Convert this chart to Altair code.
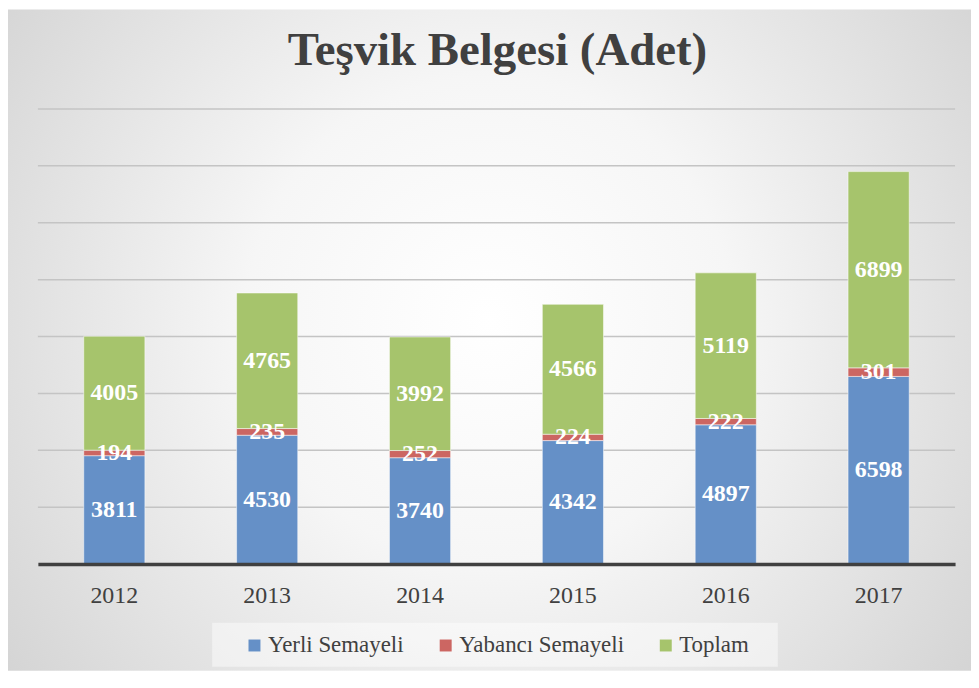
import altair as alt
import pandas as pd

title_text = ["Teşvik Belgesi (Adet)"]
years = ["2012", "2013", "2014", "2015", "2016", "2017"]
yerli = [3811, 4530, 3740, 4342, 4897, 6598]
yabanci = [194, 235, 252, 224, 222, 301]
toplam = [4005, 4765, 3992, 4566, 5119, 6899]
series = ["Yerli Semayeli", "Yabancı Semayeli", "Toplam"]
colors = ["#6590c7", "#cc6662", "#a6c46c"]
grid_values = [2000, 4000, 6000, 8000, 10000, 12000, 14000, 16000]

rows = []
for i, yr in enumerate(years):
    for k, (s, vals) in enumerate(zip(series, [yerli, yabanci, toplam])):
        rows.append({"year": yr, "series": s, "value": vals[i], "order": k})
df = pd.DataFrame(rows)

W, H = 921, 457
PAD = {"left": 30, "top": 100, "right": 16, "bottom": 115}
SERIF = "Liberation Serif"
TXT = "#404040"

yscale = alt.Scale(domain=[0, 16000], nice=False, zero=True)
xscale = alt.Scale(domain=years, paddingInner=0.6, paddingOuter=0.3)

gradient = {
    "gradient": "radial",
    "x1": 0.5, "y1": 0.48, "r1": 0,
    "x2": 0.5, "y2": 0.48, "r2": 0.72,
    "stops": [
        {"offset": 0, "color": "#ffffff"},
        {"offset": 0.35, "color": "#f6f6f6"},
        {"offset": 1, "color": "#cbcbcb"},
    ],
}

one = pd.DataFrame({"k": [0]})

bg = alt.Chart(one).mark_rect(fill=gradient).encode(
    x=alt.value(-PAD["left"]), x2=alt.value(W + PAD["right"]),
    y=alt.value(-PAD["top"]), y2=alt.value(H + 107),
)

grid = alt.Chart(pd.DataFrame({"v": grid_values})).mark_rule(
    color="#c4c4c4", strokeWidth=1.5
).encode(
    y=alt.Y("v:Q", scale=yscale, axis=None),
    x=alt.value(0), x2=alt.value(W),
)

legend_box = alt.Chart(one).mark_rect(fill="#ffffff", fillOpacity=0.45).encode(
    x=alt.value(175), x2=alt.value(743),
    y=alt.value(516), y2=alt.value(560),
)

bars = alt.Chart(df).mark_bar(stroke="#ffffff", strokeOpacity=0.5, strokeWidth=1).encode(
    x=alt.X("year:N", scale=xscale, axis=alt.Axis(
        title=None, labelAngle=0, ticks=False, grid=False,
        domainColor="#404040", domainWidth=3.5,
        labelFont=SERIF, labelFontSize=24, labelColor=TXT, labelPadding=20,
        zindex=1,
    )),
    y=alt.Y("value:Q", stack="zero", scale=yscale, axis=None),
    color=alt.Color("series:N", scale=alt.Scale(domain=series, range=colors), legend=alt.Legend(
        title=None, orient="none", legendX=206, legendY=527, direction="horizontal",
        symbolType="square", symbolSize=144, symbolStrokeWidth=0, symbolOpacity=1,
        labelFont=SERIF, labelFontSize=23, labelColor=TXT, labelOffset=2,
        labelLimit=0, columnPadding=30,
    )),
    order=alt.Order("order:Q"),
)

labels = alt.Chart(df).transform_stack(
    stack="value", groupby=["year"], as_=["v0", "v1"], sort=[alt.SortField("order")]
).transform_calculate(
    mid="(datum.v0 + datum.v1) / 2"
).mark_text(
    font=SERIF, fontSize=24, fontWeight="bold", color="#ffffff", baseline="middle"
).encode(
    x=alt.X("year:N", scale=xscale),
    y=alt.Y("mid:Q", scale=yscale),
    text="value:Q",
)

title = alt.Chart(pd.DataFrame({"t": title_text})).mark_text(
    font=SERIF, fontSize=47, fontWeight="bold", color=TXT, baseline="alphabetic", align="center"
).encode(
    text="t:N", x=alt.value(W / 2 + 1), y=alt.value(-44),
)

chart = alt.layer(bg, grid, legend_box, bars, labels, title).properties(
    width=W, height=H, padding=PAD, autosize="none", background="#ffffff"
).configure_view(strokeWidth=0).configure_legend(
    labelFont=SERIF, labelFontSize=23, labelColor=TXT, labelLimit=0
)

chart.save("out.html", embed_options={"renderer": "svg", "actions": False})
